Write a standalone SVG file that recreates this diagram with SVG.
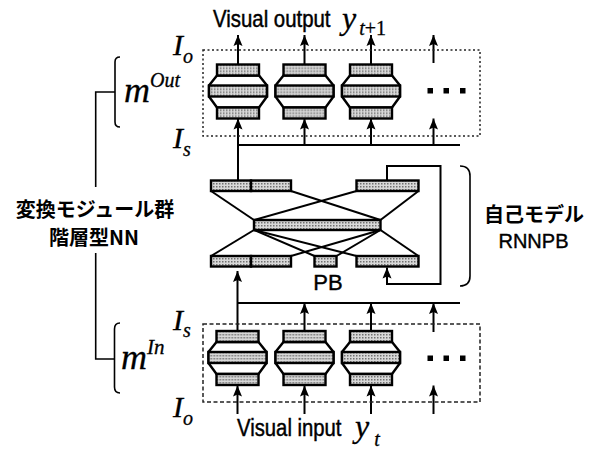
<svg xmlns="http://www.w3.org/2000/svg" xmlns:xlink="http://www.w3.org/1999/xlink" width="593" height="450" viewBox="0 0 593 450">
<style>
.bar{fill:url(#stip);stroke:#000;stroke-width:2.4}
.body{fill:#fff;stroke:#000;stroke-width:2.4}
.ln{fill:none;stroke:#000;stroke-width:2}
.arr{fill:none;stroke:#000;stroke-width:2;marker-end:url(#ah)}
.br{fill:none;stroke:#000;stroke-width:1.6}
.box1{fill:none;stroke:#222;stroke-width:1.5;stroke-dasharray:2 2.5}
.box2{fill:none;stroke:#222;stroke-width:1.5;stroke-dasharray:4 2.5}
.math{font-family:"Liberation Serif","Times New Roman",serif;font-style:italic;fill:#000;stroke:#000;stroke-width:0.3}
.sans{font-family:"Liberation Sans",Arial,sans-serif;fill:#000;stroke:#000;stroke-width:0.4}
.jp{font-family:"Noto Sans CJK JP","Noto Sans",sans-serif;font-weight:bold;fill:#000}
.dot{fill:#000}
</style>
<defs>
<pattern id="stip" width="3" height="3" patternUnits="userSpaceOnUse">
<rect width="3" height="3" fill="#d8d8d8"/>
<rect width="1.5" height="1.5" fill="#707070"/>
</pattern>
<marker id="ah" markerWidth="11" markerHeight="10" refX="11" refY="5" orient="auto" markerUnits="userSpaceOnUse">
<path d="M0,0.5 L11,5 L0,9.5 L2,5 Z" fill="#000"/>
</marker>
<g id="module">
<polygon class="body" points="-21,11 21,11 29,21 29,32 21,43 -21,43 -29,32 -29,21"/>
<rect class="bar" x="-21" y="0" width="42" height="11"/>
<rect class="bar" x="-29" y="21" width="58" height="11"/>
<rect class="bar" x="-21" y="43" width="42" height="11"/>
</g>
</defs>
<rect width="593" height="450" fill="#fff"/>

<g id="connectors">
<line class="arr" x1="238" y1="64.5" x2="238" y2="35"/>
<line class="arr" x1="304.5" y1="64.5" x2="304.5" y2="35"/>
<line class="arr" x1="371" y1="64.5" x2="371" y2="35"/>
<line class="arr" x1="433.5" y1="63" x2="433.5" y2="35"/>
<line class="arr" x1="238" y1="145" x2="238" y2="118.5"/>
<line class="arr" x1="304.5" y1="145" x2="304.5" y2="118.5"/>
<line class="arr" x1="371" y1="145" x2="371" y2="118.5"/>
<line class="arr" x1="433.5" y1="145" x2="433.5" y2="118.5"/>
<line class="ln" x1="237" y1="145" x2="460" y2="145"/>
<line class="ln" x1="238" y1="145" x2="238" y2="181"/>
<line class="ln" x1="211" y1="191" x2="254" y2="220"/>
<line class="ln" x1="291" y1="191" x2="380.5" y2="220"/>
<line class="ln" x1="356.5" y1="191" x2="254" y2="220"/>
<line class="ln" x1="418.5" y1="191" x2="380.5" y2="220"/>
<line class="ln" x1="254" y1="230" x2="211" y2="256"/>
<line class="ln" x1="254" y1="230" x2="314.5" y2="256"/>
<line class="ln" x1="254" y1="230" x2="356.5" y2="256"/>
<line class="ln" x1="380.5" y1="230" x2="291" y2="256"/>
<line class="ln" x1="380.5" y1="230" x2="336.5" y2="256"/>
<line class="ln" x1="380.5" y1="230" x2="418.5" y2="256"/>
<polyline class="arr" points="387,180.5 387,166 440.5,166 440.5,284 387,284 387,267.5"/>
<line class="arr" x1="237.5" y1="331" x2="237.5" y2="271"/>
<line class="ln" x1="237" y1="303" x2="460" y2="303"/>
<line class="arr" x1="304.5" y1="331" x2="304.5" y2="303"/>
<line class="arr" x1="371" y1="331" x2="371" y2="303"/>
<line class="arr" x1="433.5" y1="332" x2="433.5" y2="303"/>
<line class="arr" x1="237.5" y1="414" x2="237.5" y2="385.5"/>
<line class="arr" x1="304.5" y1="414" x2="304.5" y2="385.5"/>
<line class="arr" x1="371" y1="414" x2="371" y2="385.5"/>
<line class="arr" x1="433.5" y1="414" x2="433.5" y2="385.5"/>
</g>

<g id="out-modules">
<rect class="box1" x="203" y="50" width="277" height="86"/>
<use xlink:href="#module" href="#module" x="238" y="64.5"/>
<use xlink:href="#module" href="#module" x="304.5" y="64.5"/>
<use xlink:href="#module" href="#module" x="371" y="64.5"/>
<rect class="dot" x="427.5" y="88" width="5.5" height="5.5"/>
<rect class="dot" x="443.5" y="88" width="5.5" height="5.5"/>
<rect class="dot" x="460" y="88" width="5.5" height="5.5"/>
</g>

<g id="in-modules">
<rect class="box2" x="203" y="324" width="277" height="78"/>
<use xlink:href="#module" href="#module" x="237.5" y="331"/>
<use xlink:href="#module" href="#module" x="304.5" y="331"/>
<use xlink:href="#module" href="#module" x="371" y="331"/>
<rect class="dot" x="427.5" y="355.5" width="5.5" height="5.5"/>
<rect class="dot" x="443.5" y="355.5" width="5.5" height="5.5"/>
<rect class="dot" x="460" y="355.5" width="5.5" height="5.5"/>
</g>

<g id="rnnpb">
<rect class="bar" x="211" y="180.5" width="40" height="10.5"/>
<rect class="bar" x="251" y="180.5" width="40" height="10.5"/>
<rect class="bar" x="356.5" y="180.5" width="62" height="10.5"/>
<rect class="bar" x="254" y="220" width="126.5" height="10"/>
<rect class="bar" x="211" y="256" width="40" height="10.5"/>
<rect class="bar" x="251" y="256" width="40" height="10.5"/>
<rect class="bar" x="314.5" y="256" width="22" height="10.5"/>
<rect class="bar" x="356.5" y="256" width="62" height="10.5"/>
<text class="sans" x="328" y="289.5" font-size="22" text-anchor="middle">PB</text>
</g>

<g id="label-output">
<text class="sans" transform="translate(213,27) scale(1,1.15)" x="0" y="0" font-size="20.4">Visual output</text>
<text class="math" x="342" y="29" font-size="32">y<tspan dx="3" dy="6" font-size="20">t</tspan><tspan font-size="20" font-style="normal">+1</tspan></text>
</g>

<g id="label-input">
<text class="sans" transform="translate(237,436) scale(1,1.15)" x="0" y="0" font-size="20.3">Visual input</text>
<text class="math" x="355" y="437" font-size="32">y<tspan dx="5" dy="9" font-size="20">t</tspan></text>
</g>

<g id="label-mout">
<text class="math" x="173" y="55" font-size="30">I<tspan font-size="20" dy="8">o</tspan></text>
<text class="math" x="124" y="102" font-size="36">m<tspan font-size="20" dy="-15">Out</tspan></text>
<text class="math" x="173" y="148" font-size="30">I<tspan font-size="20" dy="8">s</tspan></text>
<path class="br" d="M120,57 Q115,57 115,62 V122 Q115,127 120,127"/>
</g>

<g id="label-min">
<text class="math" x="173" y="330" font-size="30">I<tspan font-size="20" dy="7">s</tspan></text>
<text class="math" x="121" y="369" font-size="36">m<tspan font-size="21" dy="-15">In</tspan></text>
<text class="math" x="173" y="417" font-size="30">I<tspan font-size="20" dy="8">o</tspan></text>
<path class="br" d="M120,323 Q114.5,323 114.5,329 V387 Q114.5,393 120,393"/>
</g>

<g id="label-group">
<path class="br" d="M115,92 H95.7 V187 M95.7,253 V359 H114.5"/>
<text class="jp" x="95" y="217" font-size="20" text-anchor="middle">変換モジュール群</text>
<text class="jp" x="94" y="245" font-size="20" text-anchor="middle">階層型NN</text>
</g>

<g id="label-self">
<path class="br" d="M460,166 Q470,166 470,176 V276 Q470,286 460,286"/>
<text class="jp" x="534" y="222" font-size="20" text-anchor="middle">自己モデル</text>
<text class="sans" x="533.5" y="248" font-size="20" text-anchor="middle">RNNPB</text>
</g>
</svg>
